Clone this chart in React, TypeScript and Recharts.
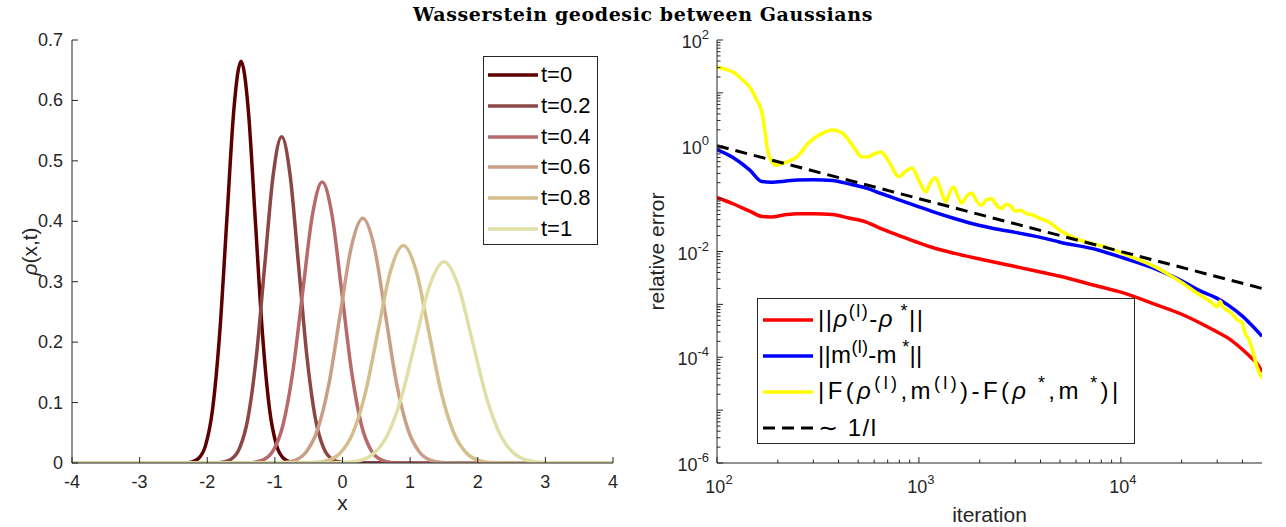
import React from 'react';
import { LineChart, Line, XAxis, YAxis, Legend, Label } from 'recharts';

const AX = '#262626';
const SANS = '"Liberation Sans", Arial, Helvetica, sans-serif';
const TICK_FS = 18;
const LEG_FS = 22;
const RLEG_FS = 24;

// ---------- Left panel: densities rho(x,t) ----------
const t0X = [-4, -2.34, -2.235, -2.13, -2.025, -1.92, -1.815, -1.71, -1.605, -1.5, -1.395, -1.29, -1.185, -1.08, -0.975, -0.87, -0.765, -0.66, 4];
const t0Y = [0, 0.0002, 0.0015, 0.0074, 0.0292, 0.09, 0.216, 0.403, 0.587, 0.665, 0.587, 0.403, 0.216, 0.09, 0.0292, 0.0074, 0.0015, 0.0002, 0];
const t02X = [-4, -1.9, -1.775, -1.65, -1.525, -1.4, -1.275, -1.15, -1.025, -0.9, -0.775, -0.65, -0.525, -0.4, -0.275, -0.15, -0.025, 0.1, 4];
const t02Y = [0, 0.0002, 0.0012, 0.006, 0.0237, 0.0731, 0.1753, 0.3275, 0.4766, 0.54, 0.4766, 0.3275, 0.1753, 0.0731, 0.0237, 0.006, 0.0012, 0.0002, 0];
const t04X = [-4, -1.46, -1.315, -1.17, -1.025, -0.88, -0.735, -0.59, -0.445, -0.3, -0.155, -0.01, 0.135, 0.28, 0.425, 0.57, 0.715, 0.86, 4];
const t04Y = [0, 0.0001, 0.001, 0.0052, 0.0204, 0.0629, 0.151, 0.282, 0.4104, 0.465, 0.4104, 0.282, 0.151, 0.0629, 0.0204, 0.0052, 0.001, 0.0001, 0];
const t06X = [-4, -1.04, -0.87, -0.705, -0.54, -0.37, -0.2, -0.035, 0.13, 0.3, 0.47, 0.635, 0.8, 0.97, 1.14, 1.305, 1.47, 1.64, 4];
const t06Y = [0, 0.0001, 0.0009, 0.0045, 0.0178, 0.0548, 0.1315, 0.2456, 0.3574, 0.405, 0.3574, 0.2456, 0.1315, 0.0548, 0.0178, 0.0045, 0.0009, 0.0001, 0];
const t08X = [-4, -0.6, -0.41, -0.225, -0.04, 0.15, 0.34, 0.525, 0.71, 0.9, 1.09, 1.275, 1.46, 1.65, 1.84, 2.025, 2.21, 2.4, 4];
const t08Y = [0, 0.0001, 0.0008, 0.004, 0.0158, 0.0487, 0.1169, 0.2183, 0.3177, 0.36, 0.3177, 0.2183, 0.1169, 0.0487, 0.0158, 0.004, 0.0008, 0.0001, 0];
const t1X = [-4, -0.18, 0.03, 0.24, 0.45, 0.66, 0.87, 1.08, 1.29, 1.5, 1.71, 1.92, 2.13, 2.34, 2.55, 2.76, 2.97, 3.18, 4];
const t1Y = [0, 0.0001, 0.0007, 0.0037, 0.0146, 0.0451, 0.1081, 0.202, 0.2939, 0.333, 0.2939, 0.202, 0.1081, 0.0451, 0.0146, 0.0037, 0.0007, 0.0001, 0];

const leftNames = ['t=0', 't=0.2', 't=0.4', 't=0.6', 't=0.8', 't=1'];
const leftColors = ['#5e0000', '#8b4646', '#b86a6a', '#c99e86', '#d4be8c', '#e0dfa6'];
const leftXs = [t0X, t02X, t04X, t06X, t08X, t1X];
const leftYs = [t0Y, t02Y, t04Y, t06Y, t08Y, t1Y];

const leftXTicks = [-4, -3, -2, -1, 0, 1, 2, 3, 4];
const leftYTicks = [0, 0.1, 0.2, 0.3, 0.4, 0.5, 0.6, 0.7];

// ---------- Right panel: relative errors ----------
const redIt = [100, 120, 145, 167, 185, 220, 250, 300, 373, 450, 548, 650, 797, 1000, 1200, 1500, 2000, 3000, 4000, 5000, 7700, 10000, 15000, 20000, 24000, 30000, 34000, 40000, 44000, 48000, 50000];
const redV = [0.105, 0.08, 0.058, 0.046, 0.045, 0.05, 0.052, 0.052, 0.05, 0.043, 0.036, 0.027, 0.02, 0.0145, 0.0115, 0.0092, 0.0072, 0.0052, 0.0041, 0.0034, 0.0022, 0.0017, 0.00098, 0.00065, 0.00047, 0.0003, 0.00023, 0.00014, 0.0001, 0.00007, 0.000052];

const blueIt = [100, 120, 145, 167, 185, 220, 250, 300, 373, 450, 548, 650, 797, 1000, 1200, 1500, 2000, 2500, 3000, 4000, 5000, 7700, 10000, 15000, 20000, 24000, 30000, 34000, 40000, 44000, 50000];
const blueV = [0.85, 0.6, 0.35, 0.21, 0.205, 0.215, 0.225, 0.228, 0.22, 0.19, 0.158, 0.125, 0.095, 0.07, 0.055, 0.042, 0.031, 0.026, 0.023, 0.0185, 0.015, 0.0107, 0.0078, 0.0046, 0.0028, 0.0019, 0.0013, 0.00097, 0.0006, 0.00042, 0.00025];

const yelIt = [100, 110, 120, 133, 145, 157, 167, 173, 178, 187, 197, 210, 221, 248, 287, 330, 373, 418, 470, 524, 560, 600, 650, 700, 797, 860, 924, 1000, 1082, 1140, 1212, 1280, 1358, 1420, 1486, 1560, 1629, 1720, 1824, 1930, 2043, 2160, 2290, 2420, 2560, 2700, 2850, 3000, 3200, 3400, 3600, 4000, 4400, 5000, 6000, 7000, 8500, 10000, 12000, 15000, 17000, 20000, 24000, 28000, 30000, 31000, 32000, 35000, 38000, 40000, 41000, 43000, 45000, 47000, 50000];
const yelV = [31, 28, 24.8, 18, 12.9, 7.5, 4.2, 1.8, 0.83, 0.5, 0.43, 0.46, 0.49, 0.61, 1.18, 1.7, 1.99, 1.75, 1.0, 0.61, 0.62, 0.7, 0.76, 0.55, 0.26, 0.33, 0.38, 0.22, 0.134, 0.2, 0.246, 0.15, 0.087, 0.13, 0.166, 0.11, 0.083, 0.11, 0.128, 0.09, 0.075, 0.095, 0.1, 0.075, 0.065, 0.078, 0.072, 0.058, 0.06, 0.052, 0.05, 0.042, 0.036, 0.025, 0.0175, 0.0145, 0.012, 0.0095, 0.0072, 0.005, 0.0038, 0.0026, 0.0016, 0.0011, 0.0009, 0.00115, 0.0009, 0.0007, 0.0005, 0.00045, 0.0003, 0.00022, 0.00013, 0.00007, 0.00004];

const dashIt = [100, 1000, 10000, 50000];
const dashV = [1, 0.1, 0.01, 0.002];

const rightOrder = ['rho', 'm', 'F', 'inv'];
const rightSpacing: Record<string, number> = { rho: 1.5, m: 0.3, F: 3.4, inv: 1.5 };
const rightXMajors = [100, 1000, 10000];
const rightYMajors = [1e-6, 1e-5, 1e-4, 1e-3, 1e-2, 1e-1, 1, 10, 100];
const rightYLabels = [1e-6, 1e-4, 1e-2, 1, 100];

const minorDigits = [2, 3, 4, 5, 6, 7, 8, 9];
const rightXTicks: number[] = [...rightXMajors];
[100, 1000, 10000].forEach((d) => minorDigits.forEach((m) => { if (d * m < 50000) rightXTicks.push(d * m); }));
const rightYTicks: number[] = [...rightYMajors];
[1e-6, 1e-5, 1e-4, 1e-3, 1e-2, 1e-1, 1, 10].forEach((d) => minorDigits.forEach((m) => rightYTicks.push(d * m)));

const isIn = (arr: number[] | undefined, v: number) =>
  !!arr && arr.some((m) => Math.abs(m - v) <= Math.abs(m) * 1e-6 + 1e-12);

function AxisTick(props: any) {
  const { x, y, payload, tkSide, tkMajors, tkLabels, tkKind } = props;
  const v = payload.value;
  const major = tkMajors ? isIn(tkMajors, v) : true;
  const len = major ? 6 : 3.5;
  let x2 = x;
  let y2 = y;
  if (tkSide === 'bottom') y2 = y - len;
  else if (tkSide === 'top') y2 = y + len;
  else if (tkSide === 'left') x2 = x + len;
  else x2 = x - len;
  let text: React.ReactNode = null;
  if (tkLabels && isIn(tkLabels, v)) {
    const common = { fontFamily: SANS, fontSize: TICK_FS, fill: AX };
    if (tkKind === 'log') {
      const e = Math.round(Math.log10(v));
      if (tkSide === 'bottom') {
        text = (
          <text x={x + 2} y={y + 30} textAnchor="middle" {...common}>
            <tspan>10</tspan>
            <tspan dy={-9} fontSize={13}>{String(e)}</tspan>
          </text>
        );
      } else {
        text = (
          <text x={x - 8} y={y + 8} textAnchor="end" {...common}>
            <tspan>10</tspan>
            <tspan dy={-9} fontSize={13}>{String(e)}</tspan>
          </text>
        );
      }
    } else {
      const s = v === 0 ? '0' : Number.isInteger(v) ? String(v) : v.toFixed(1);
      if (tkSide === 'bottom') {
        text = (
          <text x={x} y={y + 25} textAnchor="middle" {...common}>{s}</text>
        );
      } else {
        text = (
          <text x={x - 9} y={y + 6} textAnchor="end" {...common}>{s}</text>
        );
      }
    }
  }
  return (
    <g>
      <line x1={x} y1={y} x2={x2} y2={y2} stroke={AX} strokeWidth={1} />
      {text}
    </g>
  );
}

const LeftLegend = (props: any) => {
  const payload = props.payload || [];
  return (
    <div style={{ boxSizing: 'border-box', width: 115, height: 189, border: `1px solid ${AX}`, background: '#fff', position: 'relative', fontFamily: SANS }}>
      {payload.map((p: any, i: number) => (
        <div key={i} style={{ position: 'absolute', left: 4, top: 18 + i * 30.8 - 13, height: 26, display: 'flex', alignItems: 'center', whiteSpace: 'nowrap' }}>
          <svg width={50} height={8} style={{ display: 'block' }}>
            <line x1={0} x2={50} y1={4} y2={4} stroke={p.color} strokeWidth={3.5} />
          </svg>
          <span style={{ marginLeft: 3, fontSize: LEG_FS, color: '#000', lineHeight: '26px' }}>{p.value}</span>
        </div>
      ))}
    </div>
  );
};

const Sup = ({ children }: { children: React.ReactNode }) => (
  <span style={{ fontSize: 18, position: 'relative', top: -10 }}>{children}</span>
);

const rightLabels: Record<string, React.ReactNode> = {
  rho: (<span>||<i>ρ</i><Sup>(l)</Sup>-<i>ρ</i><Sup>&nbsp;*</Sup>||</span>),
  m: (<span>||m<Sup>(l)</Sup>-m<Sup>&nbsp;*</Sup>||</span>),
  F: (<span>|F(<i>ρ</i><Sup>(l)</Sup>,m<Sup>(l)</Sup>)-F(<i>ρ</i><Sup>&nbsp;*</Sup>,m<Sup>&nbsp;*</Sup>)|</span>),
  inv: (<span>∼&nbsp;1/l</span>),
};

const RightLegend = (props: any) => {
  const payload = [...(props.payload || [])].sort(
    (a: any, b: any) => rightOrder.indexOf(a.value) - rightOrder.indexOf(b.value)
  );
  return (
    <div style={{ boxSizing: 'border-box', width: 378, height: 146, border: `1px solid ${AX}`, background: '#fff', position: 'relative', fontFamily: SANS }}>
      {payload.map((p: any, i: number) => {
        const dashed = p.value === 'inv';
        return (
          <div key={i} style={{ position: 'absolute', left: 5, top: 21 + i * 36 - 15, height: 30, display: 'flex', alignItems: 'center', whiteSpace: 'nowrap' }}>
            <svg width={50} height={8} style={{ display: 'block' }}>
              <line x1={0} x2={50} y1={4} y2={4} stroke={p.color} strokeWidth={dashed ? 3 : 3.5} strokeDasharray={dashed ? '12 7' : undefined} />
            </svg>
            <span style={{ marginLeft: 5, fontSize: RLEG_FS, color: '#000', lineHeight: '30px', letterSpacing: rightSpacing[p.value] }}>{rightLabels[p.value]}</span>
          </div>
        );
      })}
    </div>
  );
};

function LeftChart() {
  const series = leftNames.map((n, k) => leftXs[k].map((x, i) => ({ x, y: leftYs[k][i] })));
  return (
    <LineChart width={640} height={527} margin={{ top: 40, right: 27, bottom: 0, left: 0 }}>
      <XAxis xAxisId="b" dataKey="x" type="number" domain={[-4, 4]} allowDataOverflow ticks={leftXTicks} interval={0}
        tickSize={0} tickMargin={0} tickLine={false} axisLine={{ stroke: AX }} height={64}
        tick={<AxisTick tkSide="bottom" tkLabels={leftXTicks} tkKind="lin" />}>
        <Label content={(p: any) => {
          const vb = p.viewBox;
          return <text x={vb.x + vb.width / 2} y={vb.y + 47} textAnchor="middle" fontFamily={SANS} fontSize={21} fill={AX}>x</text>;
        }} />
      </XAxis>
      <XAxis xAxisId="t" orientation="top" dataKey="x" type="number" domain={[-4, 4]} allowDataOverflow ticks={leftXTicks} interval={0}
        tickSize={0} tickMargin={0} tickLine={false} axisLine={{ stroke: AX }} height={0}
        tick={<AxisTick tkSide="top" tkKind="lin" />} />
      <YAxis yAxisId="l" type="number" domain={[0, 0.7]} allowDataOverflow ticks={leftYTicks} interval={0}
        tickSize={0} tickMargin={0} tickLine={false} axisLine={{ stroke: AX }} width={72}
        tick={<AxisTick tkSide="left" tkLabels={leftYTicks} tkKind="lin" />}>
        <Label content={(p: any) => {
          const vb = p.viewBox;
          const cx = 37;
          const cy = vb.y + vb.height / 2;
          return (
            <text x={cx} y={cy} transform={`rotate(-90 ${cx} ${cy})`} textAnchor="middle" fontFamily={SANS} fontSize={21} fill={AX}>
              <tspan fontStyle="italic">ρ</tspan>(x,t)
            </text>
          );
        }} />
      </YAxis>
      <YAxis yAxisId="r" orientation="right" type="number" domain={[0, 0.7]} allowDataOverflow ticks={leftYTicks} interval={0}
        tickSize={0} tickMargin={0} tickLine={false} axisLine={{ stroke: AX }} width={0}
        tick={<AxisTick tkSide="right" tkKind="lin" />} />
      {series.map((d, k) => (
        <Line key={k} data={d} dataKey="y" name={leftNames[k]}
          xAxisId={k === 5 ? 't' : 'b'} yAxisId={k === 5 ? 'r' : 'l'}
          type="monotone" stroke={leftColors[k]} strokeWidth={3.5} dot={false} activeDot={false} isAnimationActive={false} />
      ))}
      <Legend layout="vertical" align="center" verticalAlign="middle" content={<LeftLegend />}
        wrapperStyle={{ left: 483, top: 56, width: 115, height: 189 }} />
    </LineChart>
  );
}

function RightChart() {
  const red = redIt.map((it, i) => ({ it, v: redV[i] }));
  const blue = blueIt.map((it, i) => ({ it, v: blueV[i] }));
  const yel = yelIt.map((it, i) => ({ it, v: yelV[i] }));
  const dash = dashIt.map((it, i) => ({ it, v: dashV[i] }));
  return (
    <LineChart width={646} height={527} margin={{ top: 40, right: 24, bottom: 0, left: 0 }}>
      <XAxis xAxisId="b" dataKey="it" type="number" scale="log" domain={[100, 50000]} allowDataOverflow ticks={rightXTicks} interval={0}
        tickSize={0} tickMargin={0} tickLine={false} axisLine={{ stroke: AX }} height={64}
        tick={<AxisTick tkSide="bottom" tkMajors={rightXMajors} tkLabels={rightXMajors} tkKind="log" />}>
        <Label content={(p: any) => {
          const vb = p.viewBox;
          return <text x={vb.x + vb.width / 2} y={vb.y + 59} textAnchor="middle" fontFamily={SANS} fontSize={21} fill={AX}>iteration</text>;
        }} />
      </XAxis>
      <XAxis xAxisId="t" orientation="top" dataKey="it" type="number" scale="log" domain={[100, 50000]} allowDataOverflow ticks={rightXTicks} interval={0}
        tickSize={0} tickMargin={0} tickLine={false} axisLine={{ stroke: AX }} height={0}
        tick={<AxisTick tkSide="top" tkMajors={rightXMajors} tkKind="log" />} />
      <YAxis yAxisId="l" type="number" scale="log" domain={[1e-6, 100]} allowDataOverflow ticks={rightYTicks} interval={0}
        tickSize={0} tickMargin={0} tickLine={false} axisLine={{ stroke: AX }} width={77}
        tick={<AxisTick tkSide="left" tkMajors={rightYMajors} tkLabels={rightYLabels} tkKind="log" />}>
        <Label content={(p: any) => {
          const vb = p.viewBox;
          const cx = 24;
          const cy = vb.y + vb.height / 2;
          return <text x={cx} y={cy} transform={`rotate(-90 ${cx} ${cy})`} textAnchor="middle" fontFamily={SANS} fontSize={21} fill={AX}>relative error</text>;
        }} />
      </YAxis>
      <YAxis yAxisId="r" orientation="right" type="number" scale="log" domain={[1e-6, 100]} allowDataOverflow ticks={rightYTicks} interval={0}
        tickSize={0} tickMargin={0} tickLine={false} axisLine={{ stroke: AX }} width={0}
        tick={<AxisTick tkSide="right" tkMajors={rightYMajors} tkKind="log" />} />
      <Line data={red} dataKey="v" name="rho" xAxisId="b" yAxisId="l" type="monotone" stroke="#ff0000" strokeWidth={3.5} dot={false} activeDot={false} isAnimationActive={false} />
      <Line data={blue} dataKey="v" name="m" xAxisId="b" yAxisId="l" type="monotone" stroke="#0000ff" strokeWidth={3.5} dot={false} activeDot={false} isAnimationActive={false} />
      <Line data={yel} dataKey="v" name="F" xAxisId="b" yAxisId="l" type="monotone" stroke="#ffff00" strokeWidth={3.5} dot={false} activeDot={false} isAnimationActive={false} />
      <Line data={dash} dataKey="v" name="inv" xAxisId="t" yAxisId="r" type="linear" stroke="#000000" strokeWidth={3} strokeDasharray="12 7" dot={false} activeDot={false} isAnimationActive={false} />
      <Legend layout="vertical" align="center" verticalAlign="middle" content={<RightLegend />}
        wrapperStyle={{ left: 117, top: 298, width: 378, height: 146 }} />
    </LineChart>
  );
}

export default function App() {
  return (
    <div style={{ position: 'absolute', left: 0, top: 0, width: 1286, height: 527, background: '#fff', overflow: 'hidden' }}>
      <div style={{ position: 'absolute', left: 0, top: 0 }}><LeftChart /></div>
      <div style={{ position: 'absolute', left: 640, top: 0 }}><RightChart /></div>
      <div style={{ position: 'absolute', left: 0, top: 2, width: 1286, textAlign: 'center', fontFamily: '"DejaVu Serif", serif', fontWeight: 'bold', fontSize: 19, letterSpacing: 0.6, color: '#000', lineHeight: '24px' }}>
        Wasserstein geodesic between Gaussians
      </div>
    </div>
  );
}
